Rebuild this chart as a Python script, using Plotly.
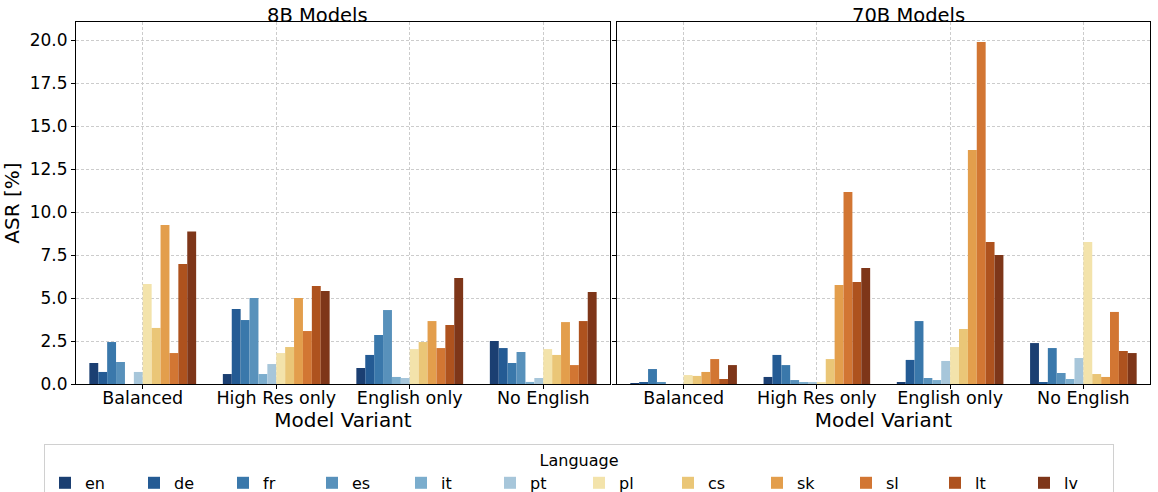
import plotly.graph_objects as go
from plotly.subplots import make_subplots

variants = ["Balanced", "High Res only", "English only", "No English"]
languages = ["en", "de", "fr", "es", "it", "pt", "pl", "cs", "sk", "sl", "lt", "lv"]
colors = ["#1b3f72", "#245b94", "#3a78ab", "#5891bb", "#7badcd", "#a7c6da",
          "#f3e3ab", "#eac677", "#e39e4c", "#d27633", "#ae521e", "#7e3619"]

# ASR [%] per language, values for [Balanced, High Res only, English only, No English]
asr_8b = {
    "en": [1.22, 0.58, 0.93, 2.50],
    "de": [0.70, 4.36, 1.69, 2.09],
    "fr": [2.44, 3.72, 2.85, 1.22],
    "es": [1.28, 5.00, 4.30, 1.86],
    "it": [0.00, 0.58, 0.41, 0.12],
    "pt": [0.70, 1.16, 0.35, 0.35],
    "pl": [5.81, 1.80, 2.03, 2.03],
    "cs": [3.26, 2.15, 2.44, 1.69],
    "sk": [9.24, 5.00, 3.66, 3.60],
    "sl": [1.80, 3.08, 2.09, 1.10],
    "lt": [6.98, 5.70, 3.43, 3.66],
    "lv": [8.87, 5.41, 6.16, 5.35],
}
asr_70b = {
    "en": [0.03, 0.41, 0.06, 2.38],
    "de": [0.06, 1.69, 1.40, 0.10],
    "fr": [0.87, 1.10, 3.66, 2.09],
    "es": [0.06, 0.23, 0.35, 0.64],
    "it": [0.00, 0.06, 0.23, 0.29],
    "pt": [0.00, 0.06, 1.34, 1.51],
    "pl": [0.52, 0.10, 2.15, 8.26],
    "cs": [0.47, 1.45, 3.20, 0.58],
    "sk": [0.70, 5.76, 13.60, 0.41],
    "sl": [1.45, 11.16, 19.88, 4.19],
    "lt": [0.29, 5.93, 8.26, 1.92],
    "lv": [1.10, 6.74, 7.50, 1.80],
}
yticks = [0, 2.5, 5, 7.5, 10, 12.5, 15, 17.5, 20]

FONT = "DejaVu Sans"

fig = make_subplots(rows=1, cols=2, shared_yaxes=True,
                    subplot_titles=("8B Models", "70B Models"))

for i, lang in enumerate(languages):
    fig.add_trace(go.Bar(x=variants, y=asr_8b[lang], name=lang,
                         marker=dict(color=colors[i], line=dict(width=0)),
                         legendgroup=lang, showlegend=True), row=1, col=1)
    fig.add_trace(go.Bar(x=variants, y=asr_70b[lang], name=lang,
                         marker=dict(color=colors[i], line=dict(width=0)),
                         legendgroup=lang, showlegend=False), row=1, col=2)

axis_common = dict(showline=True, linecolor="black", linewidth=1.2, mirror=True,
                   showgrid=True, gridcolor="#cccccc", griddash="3px,2px", gridwidth=0.8,
                   ticks="outside", ticklen=4, tickcolor="black", zeroline=False)

fig.update_xaxes(**axis_common, range=[-0.5, 3.5], tickangle=0, ticklabelstandoff=-6,
                 tickfont=dict(family=FONT, size=17.5, color="black"),
                 title=dict(text="Model Variant", font=dict(family=FONT, size=20, color="black"), standoff=0))
fig.update_yaxes(**axis_common, range=[0, 21.05], tickvals=yticks, tickformat=".1f",
                 tickfont=dict(family=FONT, size=17, color="black"))
fig.update_yaxes(title=dict(text="ASR [%]", font=dict(family=FONT, size=20, color="black"), standoff=6),
                 row=1, col=1)
fig.update_yaxes(showticklabels=False, row=1, col=2)

fig.update_layout(
    xaxis=dict(domain=[0, 0.4972]),
    xaxis2=dict(domain=[0.5037, 1]),
    barmode="group", bargap=0.2, bargroupgap=0,
    width=1158, height=492,
    margin=dict(l=76, r=8, t=22, b=108, autoexpand=False),
    plot_bgcolor="white", paper_bgcolor="white",
    font=dict(family=FONT, color="black"),
    legend=dict(orientation="h", xref="container", x=0.5, xanchor="center",
                y=-0.166, yanchor="top",
                title=dict(text="Language", side="top center", font=dict(family=FONT, size=16)),
                font=dict(family=FONT, size=16), entrywidth=44,
                bordercolor="#d0d0d0", borderwidth=1, bgcolor="white",
                traceorder="normal"),
)
for ann in fig.layout.annotations:
    ann.font = dict(family=FONT, size=19.5, color="black")
    ann.yshift = -7

fig.write_html("out.html", config={"displayModeBar": False},
               post_script="document.body.style.margin='0';")
